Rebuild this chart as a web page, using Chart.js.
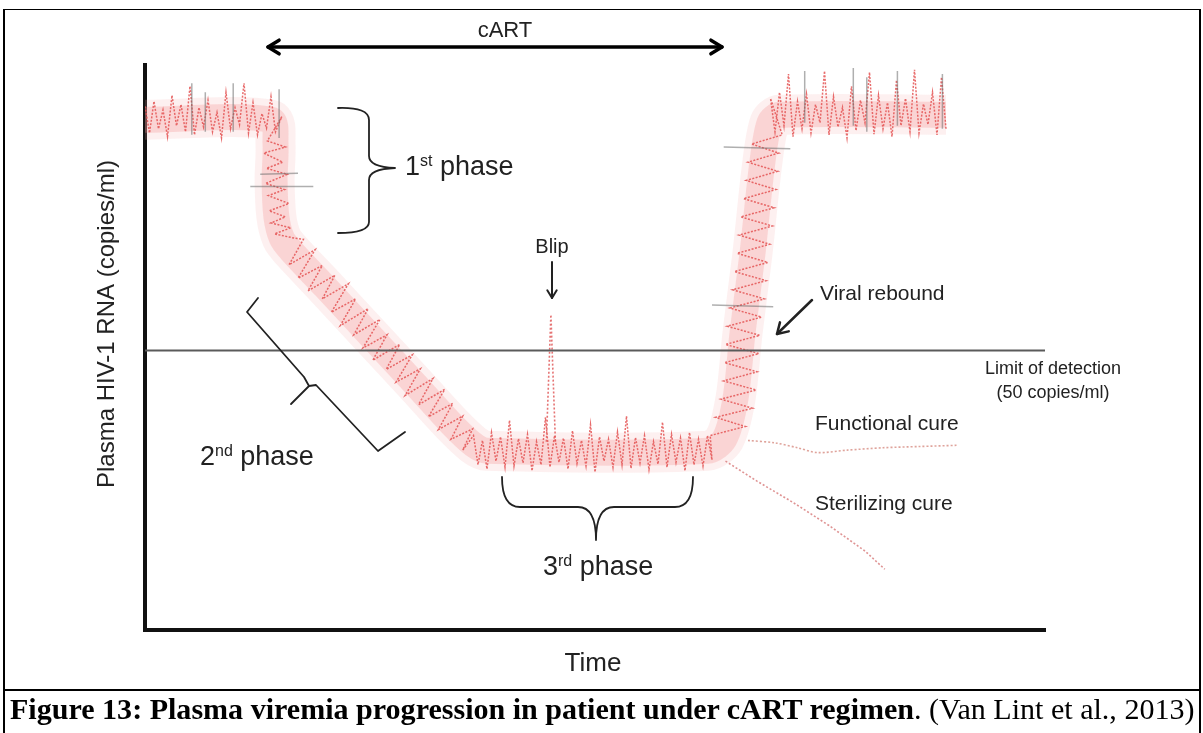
<!DOCTYPE html>
<html>
<head>
<meta charset="utf-8">
<script src="https://cdn.jsdelivr.net/npm/chart.js@4.4.0/dist/chart.umd.min.js"></script>
<style>
  body { margin: 0; background: #fff; }
  #wrap { position: relative; width: 1203px; height: 733px; overflow: hidden; }
  #frame { position: absolute; left: 3px; top: 9px; width: 1194px; height: 730px;
           border-left: 2px solid #000; border-right: 2px solid #000; border-top: 1px solid #000; }
  #sep { position: absolute; left: 3px; top: 689px; width: 1198px; height: 2px; background: #000; }
  #caption { position: absolute; left: 10px; top: 693px; font-family: 'Liberation Serif', 'Times New Roman', serif;
             font-size: 30px; line-height: 32px; white-space: nowrap; transform-origin: 0 0; color: #000; }
  canvas { position: absolute; left: 0; top: 0; }
</style>
</head>
<body>
<div id="wrap">
  <canvas id="viremia" width="1203" height="733"></canvas>
  <div id="frame"></div>
  <div id="sep"></div>
  <div id="caption"><b>Figure 13: Plasma viremia progression in patient under cART regimen</b>. (Van Lint et al., 2013)</div>
</div>
<script>
// time in arbitrary units (0-100), viral load in log10 copies/ml
const limitLog = 1.7; // 50 copies/ml

const preTherapy = [[0,5.72],[0.5,5.28],[1,5.80],[1.5,5.35],[2,5.66],[2.5,5.22],[3,5.90],[3.5,5.40],[4,5.75],[4.5,5.30],
  [5,6.05],[5.5,5.25],[6,5.70],[6.5,5.38],[7,5.82],[7.5,5.30],[8,5.62],[8.5,5.20],[9,5.95],[9.5,5.35],
  [10,5.70],[10.5,5.42],[11,6.10],[11.5,5.28],[12,5.78],[12.5,5.25],[13,5.60],[13.5,5.36],[14,5.88],[14.5,5.30]];
const firstPhase = [[15.2,5.55],[13.6,5.15],[15.6,5.05],[13.2,4.95],[15.3,4.8],[13.5,4.7],[15.8,4.6],[13.4,4.45],
  [15.5,4.35],[13.7,4.25],[16.0,4.12],[13.8,4.0],[15.6,3.9],[14.0,3.8],[16.2,3.72],[14.4,3.62],[16.6,3.55]];
const secondPhase = [[17.6,3.53],[16.0,3.11],[18.9,3.36],[17.0,2.89],[19.7,3.10],[18.1,2.68],[21.1,2.94],[19.7,2.55],
  [22.6,2.80],[20.7,2.33],[23.4,2.55],[21.7,2.11],[24.8,2.39],[23.2,1.96],[26.1,2.21],[24.2,1.74],[26.9,1.96],
  [25.3,1.54],[28.3,1.80],[26.8,1.39],[29.7,1.63],[27.9,1.18],[30.6,1.40],[28.9,0.96],[32.0,1.24],[30.4,0.81],
  [33.3,1.06],[31.5,0.61],[34.2,0.83],[32.6,0.40],[35.3,0.62],[34.0,0.24],[36.4,0.41],[35.3,0.06]];
const thirdPhase = [[36.5,0.30],[37,-0.18],[37.5,0.22],[38,-0.25],[38.5,0.35],[39,-0.12],[39.5,0.28],[40,-0.22],
  [40.5,0.55],[41,-0.20],[41.5,0.25],[42,-0.15],[42.5,0.32],[43,-0.28],[43.5,0.20],[44,-0.18],[44.5,0.60],
  [45,-0.22],[45.5,0.30],[46,-0.14],[46.5,0.26],[47,-0.25],[47.5,0.38],[48,-0.16],[48.5,0.22],[49,-0.20],
  [49.5,0.48],[50,-0.30],[50.5,0.28],[51,-0.12],[51.5,0.24],[52,-0.22],[52.5,0.36],[53,-0.18],[53.5,0.62],
  [54,-0.24],[54.5,0.27],[55,-0.15],[55.5,0.30],[56,-0.26],[56.5,0.20],[57,-0.17],[57.5,0.52],[58,-0.22],
  [58.5,0.32],[59,-0.14],[59.5,0.26],[60,-0.28],[60.5,0.35],[61,-0.18],[61.5,0.24],[62,-0.20],[62.5,0.30],[63,-0.10]];
const rebound = [[62.8,0.30],[66.7,0.45],[63.4,0.60],[67.5,0.75],[64.0,0.90],[67.9,1.05],[64.3,1.20],[68.0,1.35],
  [64.4,1.50],[68.2,1.65],[64.5,1.80],[68.3,1.95],[64.7,2.10],[68.5,2.25],[65.0,2.40],[68.8,2.55],[65.3,2.70],
  [69.0,2.85],[65.5,3.00],[69.2,3.15],[65.8,3.30],[69.4,3.45],[66.0,3.60],[69.7,3.75],[66.2,3.90],[69.9,4.05],
  [66.5,4.20],[70.1,4.35],[66.8,4.50],[70.3,4.65],[67.0,4.80],[70.4,4.95],[67.4,5.10],[70.8,5.25]];
const afterStop = [[69.5,5.85],[70,5.30],[70.5,5.95],[71,5.40],[71.5,6.25],[72,5.22],[72.5,5.80],[73,5.35],
  [73.5,5.92],[74,5.28],[74.5,5.75],[75,5.45],[75.5,6.30],[76,5.25],[76.5,5.88],[77,5.38],[77.5,5.70],[78,5.20],
  [78.5,6.05],[79,5.32],[79.5,5.82],[80,5.45],[80.5,6.28],[81,5.26],[81.5,5.90],[82,5.35],[82.5,5.78],[83,5.22],
  [83.5,6.15],[84,5.40],[84.5,5.85],[85,5.30],[85.5,6.32],[86,5.28],[86.5,5.76],[87,5.42],[87.5,5.95],[88,5.25],
  [88.5,6.20],[89,5.35]];

// smoothed trend that gives the pale band under the noise
const trend = [[0,5.5],[14.0,5.5],[14.5,5.1],[14.4,4.5],[14.6,3.9],[15.2,3.55],[16.2,3.35],[20,2.75],[25,1.95],
  [30,1.15],[34,0.5],[36.5,0.15],[38,0.05],[62.5,0.05],[64.4,0.25],[65.6,0.9],[66.4,2.0],[67.5,3.3],[68.6,4.8],
  [69.4,5.45],[70.5,5.58],[89,5.58]];

const blip = [[44.6,0.2],[45.1,2.29],[45.6,0.2]];
const functionalCure = [[67.0,0.22],[70,0.18],[72.5,0.10],[74.7,0.02],[78,0.06],[82,0.10],[86,0.12],[90.2,0.14]];
const sterilizingCure = [[64.5,-0.12],[68,-0.45],[72,-0.80],[76,-1.18],[80,-1.60],[82.2,-1.90]];

// grey streaks in the scanned trace
const streaks = [
  [[11.7,4.40],[18.7,4.40]], [[12.8,4.60],[17.0,4.62]],
  [[5.2,6.10],[5.2,5.25]], [[6.7,5.95],[6.7,5.30]], [[9.8,6.10],[9.8,5.30]], [[14.9,6.00],[14.9,5.20]],
  [[64.3,5.05],[71.7,5.02]], [[63.0,2.45],[69.8,2.42]],
  [[73.3,6.30],[73.3,5.45]], [[78.7,6.35],[78.7,5.40]], [[80.2,6.20],[80.2,5.30]],
  [[83.6,6.30],[83.6,5.40]], [[88.6,6.25],[88.6,5.35]]
];

const toXY = arr => arr.map(p => ({x: p[0], y: p[1]}));
const measured = [].concat(preTherapy, firstPhase, secondPhase, thirdPhase, rebound, afterStop);
const bandClip = {left: 0, top: 25, right: 25, bottom: 25};

const datasets = [
  { data: [{x: 0, y: limitLog}, {x: 100, y: limitLog}], borderColor: '#5a5a5a', borderWidth: 2, order: 1 },
  { data: toXY(measured), borderColor: 'rgba(228,82,82,0.85)', borderWidth: 1.5, borderDash: [2, 1.5], order: 3 },
  { data: toXY(blip), borderColor: 'rgba(225,90,90,0.85)', borderWidth: 1.6, borderDash: [2, 2], order: 3 },
  { data: toXY(functionalCure), borderColor: 'rgba(215,140,130,0.8)', borderWidth: 1.6, borderDash: [2, 2], tension: 0.3, order: 3 },
  { data: toXY(sterilizingCure), borderColor: 'rgba(215,120,120,0.8)', borderWidth: 1.6, borderDash: [2, 2], order: 3 },
  { data: toXY(trend), borderColor: 'rgba(244,150,150,0.30)', borderWidth: 26, tension: 0.3,
    borderJoinStyle: 'round', clip: bandClip, order: 6 },
  { data: toXY(trend), borderColor: 'rgba(244,170,170,0.18)', borderWidth: 40, tension: 0.3,
    borderJoinStyle: 'round', clip: bandClip, order: 7 }
];
streaks.forEach(s => datasets.push({ data: toXY(s), borderColor: 'rgba(110,110,110,0.55)', borderWidth: 1.5, order: 2 }));

const notes = {
  id: 'notes',
  afterDraw(chart) {
    const ctx = chart.ctx;
    const font = size => size + 'px "Liberation Sans", Arial, sans-serif';
    ctx.save();
    ctx.fillStyle = '#222';
    ctx.strokeStyle = '#222';
    ctx.lineCap = 'round';
    ctx.lineJoin = 'round';

    function text(str, x, y, size, align) {
      ctx.font = font(size);
      ctx.textAlign = align || 'left';
      ctx.fillText(str, x, y);
    }
    function ordinal(num, sup, rest, x, y, size) {
      ctx.textAlign = 'left';
      ctx.font = font(size);
      ctx.fillText(num, x, y);
      let w = ctx.measureText(num).width;
      ctx.font = font(Math.round(size * 0.6));
      ctx.fillText(sup, x + w, y - size * 0.35);
      w += ctx.measureText(sup).width;
      ctx.font = font(size);
      ctx.fillText(rest, x + w, y);
    }
    function head(x, y, ang, len) {
      ctx.beginPath();
      ctx.moveTo(x - len * Math.cos(ang - 0.55), y - len * Math.sin(ang - 0.55));
      ctx.lineTo(x, y);
      ctx.lineTo(x - len * Math.cos(ang + 0.55), y - len * Math.sin(ang + 0.55));
      ctx.stroke();
    }
    function arrow(x1, y1, x2, y2, w, len, both) {
      ctx.lineWidth = w;
      ctx.beginPath(); ctx.moveTo(x1, y1); ctx.lineTo(x2, y2); ctx.stroke();
      const a = Math.atan2(y2 - y1, x2 - x1);
      head(x2, y2, a, len);
      if (both) head(x1, y1, a + Math.PI, len);
    }

    // cART treatment period
    text('cART', 505, 37, 22, 'center');
    ctx.strokeStyle = '#000';
    arrow(268, 47, 722, 47, 3.5, 13, true);
    ctx.strokeStyle = '#222';

    // 1st phase brace
    ctx.lineWidth = 1.8;
    ctx.beginPath();
    ctx.moveTo(338, 108); ctx.quadraticCurveTo(369, 107, 369, 120); ctx.lineTo(369, 156);
    ctx.quadraticCurveTo(369, 167, 395, 168); ctx.quadraticCurveTo(369, 169, 369, 180);
    ctx.lineTo(369, 222); ctx.quadraticCurveTo(369, 233, 338, 233);
    ctx.stroke();
    ordinal('1', 'st', ' phase', 405, 175, 27);

    // 2nd phase brace
    ctx.beginPath();
    ctx.moveTo(258, 298); ctx.lineTo(247, 312); ctx.lineTo(304, 377); ctx.lineTo(309, 386); ctx.lineTo(291, 404);
    ctx.moveTo(309, 386); ctx.lineTo(316, 385); ctx.lineTo(378, 451); ctx.lineTo(405, 432);
    ctx.stroke();
    ordinal('2', 'nd', ' phase', 200, 465, 27);

    // 3rd phase brace
    ctx.beginPath();
    ctx.moveTo(502, 477); ctx.quadraticCurveTo(502, 507, 520, 507); ctx.lineTo(578, 507);
    ctx.quadraticCurveTo(596, 507, 596, 540); ctx.quadraticCurveTo(596, 507, 614, 507);
    ctx.lineTo(675, 507); ctx.quadraticCurveTo(693, 507, 693, 477);
    ctx.stroke();
    ordinal('3', 'rd', ' phase', 543, 575, 27);

    // blip
    text('Blip', 552, 253, 20, 'center');
    arrow(552, 262, 552, 298, 2, 9);

    // viral rebound
    text('Viral rebound', 820, 300, 21);
    arrow(812, 300, 777, 334, 2.5, 12);

    text('Limit of detection', 1053, 374, 18, 'center');
    text('(50 copies/ml)', 1053, 398, 18, 'center');
    text('Functional cure', 815, 430, 21);
    text('Sterilizing cure', 815, 510, 21);

    // axis titles
    text('Time', 593, 671, 26, 'center');
    ctx.translate(107, 324);
    ctx.rotate(-Math.PI / 2);
    ctx.textBaseline = 'middle';
    text('Plasma HIV-1 RNA (copies/ml)', 0, 0, 24, 'center');
    ctx.restore();
  }
};

const axis = {
  type: 'linear',
  grid: { display: false, drawTicks: false },
  ticks: { display: false },
  border: { display: true, color: '#111', width: 4 }
};

new Chart(document.getElementById('viremia'), {
  type: 'line',
  data: { datasets: datasets },
  options: {
    responsive: false,
    animation: false,
    elements: { point: { radius: 0 }, line: { tension: 0, borderCapStyle: 'butt' } },
    layout: { padding: { left: 145, right: 158, top: 65, bottom: 103 } },
    scales: {
      x: Object.assign({}, axis, { min: 0, max: 100 }),
      y: Object.assign({}, axis, { min: -2.9, max: 6.4 })
    },
    plugins: { legend: { display: false }, tooltip: { enabled: false } }
  },
  plugins: [notes]
});

// fit the caption to the width of the figure box
const cap = document.getElementById('caption');
cap.style.transform = 'scaleX(' + (1185 / cap.offsetWidth) + ')';
</script>
</body>
</html>
